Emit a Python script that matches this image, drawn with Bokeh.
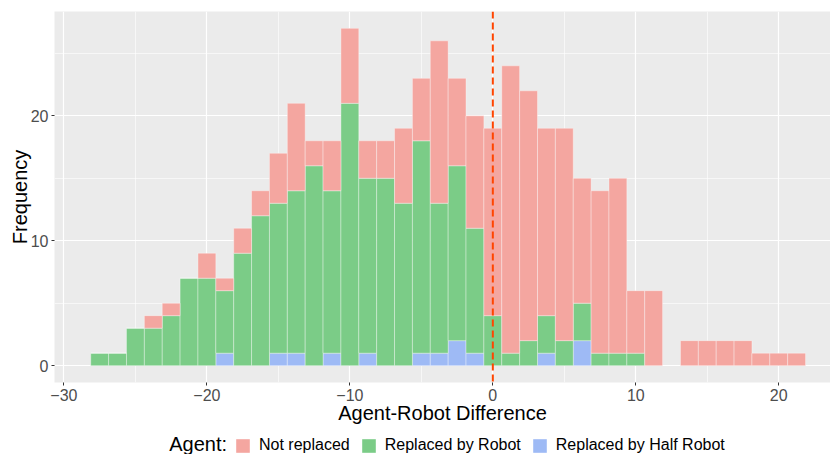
from bokeh.plotting import figure
from bokeh.layouts import column
from bokeh.models import (Span, Legend, LegendItem, Label, Range1d,
                          ColumnDataSource, FixedTicker)
from bokeh.embed import file_html
from bokeh.resources import INLINE

# ---- data (binwidth 1.25) ----
bin_centers = [-27.5, -26.25, -25.0, -23.75, -22.5, -21.25, -20.0, -18.75,
               -17.5, -16.25, -15.0, -13.75, -12.5, -11.25, -10.0, -8.75,
               -7.5, -6.25, -5.0, -3.75, -2.5, -1.25, 0.0, 1.25,
               2.5, 3.75, 5.0, 6.25, 7.5, 8.75, 10.0, 11.25,
               12.5, 13.75, 15.0, 16.25, 17.5, 18.75, 20.0, 21.25]
half_robot = [0, 0, 0, 0, 0, 0, 0, 1,
              0, 0, 1, 1, 0, 1, 0, 1,
              0, 0, 1, 1, 2, 1, 0, 0,
              0, 1, 0, 2, 0, 0, 0, 0,
              0, 0, 0, 0, 0, 0, 0, 0]
robot = [1, 1, 3, 3, 4, 7, 7, 5,
         9, 12, 12, 13, 16, 13, 21, 14,
         15, 13, 17, 12, 14, 10, 4, 1,
         2, 3, 2, 3, 1, 1, 1, 0,
         0, 0, 0, 0, 0, 0, 0, 0]
not_replaced = [0, 0, 0, 1, 1, 0, 2, 1,
                2, 2, 4, 7, 2, 4, 6, 3,
                3, 6, 5, 13, 7, 9, 15, 23,
                20, 15, 17, 10, 13, 14, 5, 6,
                0, 2, 2, 2, 2, 1, 1, 1]
bin_width = 1.25
series_labels = ["Not replaced", "Replaced by Robot", "Replaced by Half Robot"]
legend_title = "Agent:"
x_ticks = [-30, -20, -10, 0, 10, 20]
x_minor = [-25, -15, -5, 5, 15]
y_ticks = [0, 10, 20]
y_minor = [5, 15, 25]
reference_x = 0

PINK = "#F4A6A0"
GREEN = "#7BCC87"
BLUE = "#9EBAF5"
FONT = "Liberation Sans"

source = ColumnDataSource(dict(x=bin_centers, half=half_robot,
                               robot=robot, notrep=not_replaced))

# ---------------- main histogram ----------------
p = figure(width=830, height=432, output_backend="svg", toolbar_location=None,
           x_range=Range1d(-30.66, 23.62), y_range=Range1d(-1.35, 28.35),
           min_border_top=11, min_border_left=54, min_border_right=0,
           min_border_bottom=50)

rs = p.vbar_stack(["half", "robot", "notrep"], x="x", width=bin_width,
                  source=source, fill_color=[BLUE, GREEN, PINK],
                  line_color="white", line_alpha=0.5, line_width=0.7)

p.background_fill_color = "#EBEBEB"
p.border_fill_color = "white"
p.outline_line_color = None

xt = FixedTicker(ticks=x_ticks, minor_ticks=x_minor)
yt = FixedTicker(ticks=y_ticks, minor_ticks=y_minor)
p.xaxis.ticker = xt
p.yaxis.ticker = yt
p.xgrid.ticker = xt
p.ygrid.ticker = yt

p.grid.grid_line_color = "white"
p.grid.grid_line_width = 1.2
p.grid.minor_grid_line_color = "white"
p.grid.minor_grid_line_width = 0.6

for ax in p.axis:
    ax.axis_line_color = None
    ax.major_tick_line_color = "#333333"
    ax.major_tick_out = 3
    ax.major_tick_in = 0
    ax.minor_tick_line_color = None
    ax.major_label_text_font = FONT
    ax.major_label_text_font_size = "16px"
    ax.major_label_text_color = "#4D4D4D"
    ax.axis_label_text_font = FONT
    ax.axis_label_text_font_size = "20px"
    ax.axis_label_text_font_style = "normal"
    ax.axis_label_text_color = "black"

p.xaxis.major_label_standoff = 2
p.xaxis.axis_label_standoff = -2
p.yaxis.major_label_standoff = 2
p.yaxis.axis_label_standoff = -3
p.xaxis.axis_label = "Agent-Robot Difference"
p.yaxis.axis_label = "Frequency"

p.add_layout(Span(location=reference_x, dimension="height", line_color="#FF4500",
                  line_dash="7 4", line_width=2))

# ---------------- legend strip ----------------
# swatch renderers reuse the real data but are hidden; only their legend
# swatches are drawn
lf = figure(width=830, height=22, output_backend="svg", toolbar_location=None,
            x_range=Range1d(-30.66, 23.62), y_range=Range1d(-1000, -978),
            x_axis_location=None, y_axis_location=None, min_border=0)
lf.grid.visible = False
lf.outline_line_color = None
lf.background_fill_color = "white"
lf.border_fill_color = "white"

swatch_kw = dict(x="x", width=bin_width, source=source, line_color=None,
                 visible=False)
r_pink = lf.vbar(top="notrep", fill_color=PINK, **swatch_kw)
r_green = lf.vbar(top="robot", fill_color=GREEN, **swatch_kw)
r_blue = lf.vbar(top="half", fill_color=BLUE, **swatch_kw)

legend = Legend(items=[LegendItem(label=series_labels[0], renderers=[r_pink]),
                       LegendItem(label=series_labels[1], renderers=[r_green]),
                       LegendItem(label=series_labels[2], renderers=[r_blue])],
                location=(180, 0), orientation="horizontal",
                glyph_width=17, glyph_height=17, label_standoff=8, spacing=10,
                padding=0, margin=0, border_line_color=None,
                background_fill_alpha=0, label_text_font=FONT,
                label_text_font_size="16px", label_text_color="black")
lf.add_layout(legend)

lf.add_layout(Label(x=114.7, y=11, x_units="screen", y_units="screen",
                    text=legend_title, text_font=FONT, text_font_size="20px",
                    text_align="left", text_baseline="middle",
                    text_color="black"))

layout = column(p, lf, spacing=0)
open("out.html", "w").write(file_html(layout, INLINE))
